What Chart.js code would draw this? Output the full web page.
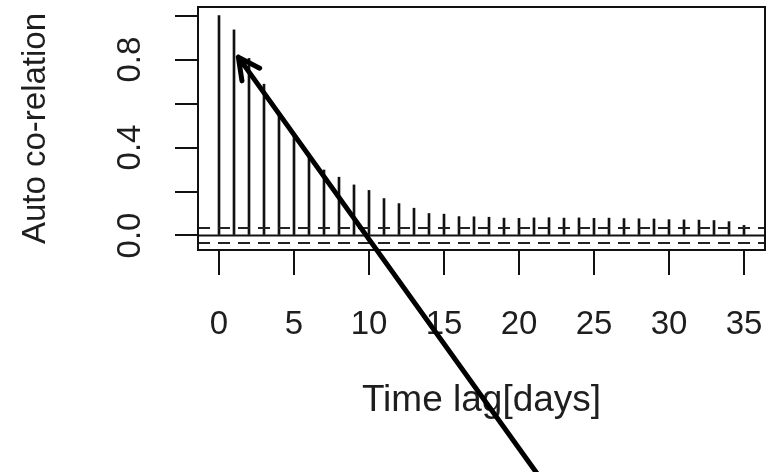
<!DOCTYPE html>
<html><head><meta charset="utf-8">
<script src="https://cdn.jsdelivr.net/npm/chart.js@4.4.1/dist/chart.umd.min.js"></script>
<style>html,body{margin:0;padding:0;background:#fff;}canvas{display:block;}</style>
</head><body>
<canvas id="c" width="772" height="472"></canvas>
<script>
// ---- data ----
const lags = [0,1,2,3,4,5,6,7,8,9,10,11,12,13,14,15,16,17,18,19,20,21,22,23,24,25,26,27,28,29,30,31,32,33,34,35];
const acfValues = [1.0,0.935,0.805,0.688,0.548,0.463,0.372,0.298,0.265,0.230,0.205,0.168,0.145,0.124,0.100,0.097,0.086,0.085,0.083,0.079,0.078,0.080,0.081,0.079,0.080,0.078,0.079,0.077,0.076,0.075,0.072,0.071,0.070,0.068,0.063,0.046];
const confLimit = 0.034;
const xTicks = [0,5,10,15,20,25,30,35];
const xTickLabels = ['0','5','10','15','20','25','30','35'];
const yTicks = [0,0.2,0.4,0.6,0.8,1.0];
const yTickLabels = ['0.0','','0.4','','0.8',''];
const xLimits = [-1.4, 36.4];
const yLimits = [-0.066, 1.039];
const xTitle = 'Time lag[days]';
const yTitle = 'Auto co-relation';
const arrowTail = {x: 21.6, y: -1.12};
const arrowTip = {x: 1.29, y: 0.811};

const FONT = 'Liberation Sans, Arial, sans-serif';
const INK = '#111';
const TXT = '#1e1e1e';

const barData = lags.map((l, i) => ({x: l, y: acfValues[i]}));
const hline = v => [{x: xLimits[0], y: v}, {x: xLimits[1], y: v}];

const overlay = {
  id: 'overlay',
  afterDatasetsDraw(chart) {
    const {ctx, chartArea: a} = chart;
    ctx.save();
    ctx.strokeStyle = INK;
    ctx.lineWidth = 2;
    ctx.strokeRect(a.left, a.top, a.right - a.left, a.bottom - a.top);
    ctx.restore();
  },
  afterDraw(chart) {
    const {ctx} = chart;
    const xs = chart.scales.x, ys = chart.scales.y;
    const x0 = xs.getPixelForValue(arrowTail.x), y0 = ys.getPixelForValue(arrowTail.y);
    const x1 = xs.getPixelForValue(arrowTip.x), y1 = ys.getPixelForValue(arrowTip.y);
    const ang = Math.atan2(y0 - y1, x0 - x1);
    const L = 24, spread = 27 * Math.PI / 180;
    ctx.save();
    ctx.strokeStyle = '#000';
    ctx.lineWidth = 5;
    ctx.lineCap = 'round';
    ctx.lineJoin = 'round';
    ctx.beginPath();
    ctx.moveTo(x0, y0); ctx.lineTo(x1, y1);
    ctx.moveTo(x1 + L * Math.cos(ang - spread), y1 + L * Math.sin(ang - spread));
    ctx.lineTo(x1, y1);
    ctx.lineTo(x1 + L * Math.cos(ang + spread), y1 + L * Math.sin(ang + spread));
    ctx.stroke();
    ctx.restore();
  }
};

new Chart(document.getElementById('c'), {
  data: {
    datasets: [
      {type: 'bar', data: barData, backgroundColor: INK, borderWidth: 0, barThickness: 2, order: 2},
      {type: 'line', data: hline(0), borderColor: INK, borderWidth: 2, pointRadius: 0, order: 1},
      {type: 'line', data: hline(confLimit), borderColor: '#222', borderWidth: 2, borderDash: [12, 8], pointRadius: 0, order: 1},
      {type: 'line', data: hline(-confLimit), borderColor: '#222', borderWidth: 2, borderDash: [12, 8], pointRadius: 0, order: 1}
    ]
  },
  options: {
    responsive: false,
    animation: false,
    events: [],
    layout: {padding: {top: 7, right: 7, left: 0, bottom: 0}},
    plugins: {legend: {display: false}, tooltip: {enabled: false}},
    scales: {
      x: {
        type: 'linear', min: xLimits[0], max: xLimits[1], offset: false,
        afterBuildTicks: s => { s.ticks = xTicks.map(v => ({value: v})); },
        afterFit: s => { s.height = 222; s.paddingLeft = 0; s.paddingRight = 0; },
        grid: {offset: false, drawOnChartArea: false, drawTicks: true, tickLength: 25, color: INK, lineWidth: 2},
        border: {display: false},
        ticks: {
          autoSkip: false, maxRotation: 0, minRotation: 0, padding: 30,
          color: TXT, font: {family: FONT, size: 33},
          callback: (v, i) => xTickLabels[i]
        },
        title: {display: true, text: xTitle, color: TXT, font: {family: FONT, size: 37}, padding: {top: 0, bottom: 49}}
      },
      y: {
        type: 'linear', min: yLimits[0], max: yLimits[1],
        afterBuildTicks: s => { s.ticks = yTicks.map(v => ({value: v})); },
        afterFit: s => { s.width = 198; s.paddingTop = 0; s.paddingBottom = 0; },
        grid: {drawOnChartArea: false, drawTicks: true, tickLength: 23, color: INK, lineWidth: 2},
        border: {display: false},
        ticks: {
          autoSkip: false, minRotation: 90, maxRotation: 90, crossAlign: 'center', padding: 21,
          color: TXT, font: {family: FONT, size: 33},
          callback: (v, i) => yTickLabels[i]
        },
        title: {display: true, text: yTitle, color: TXT, font: {family: FONT, size: 33}, padding: {top: 16, bottom: 0}}
      }
    }
  },
  plugins: [overlay]
});
</script>
</body></html>
